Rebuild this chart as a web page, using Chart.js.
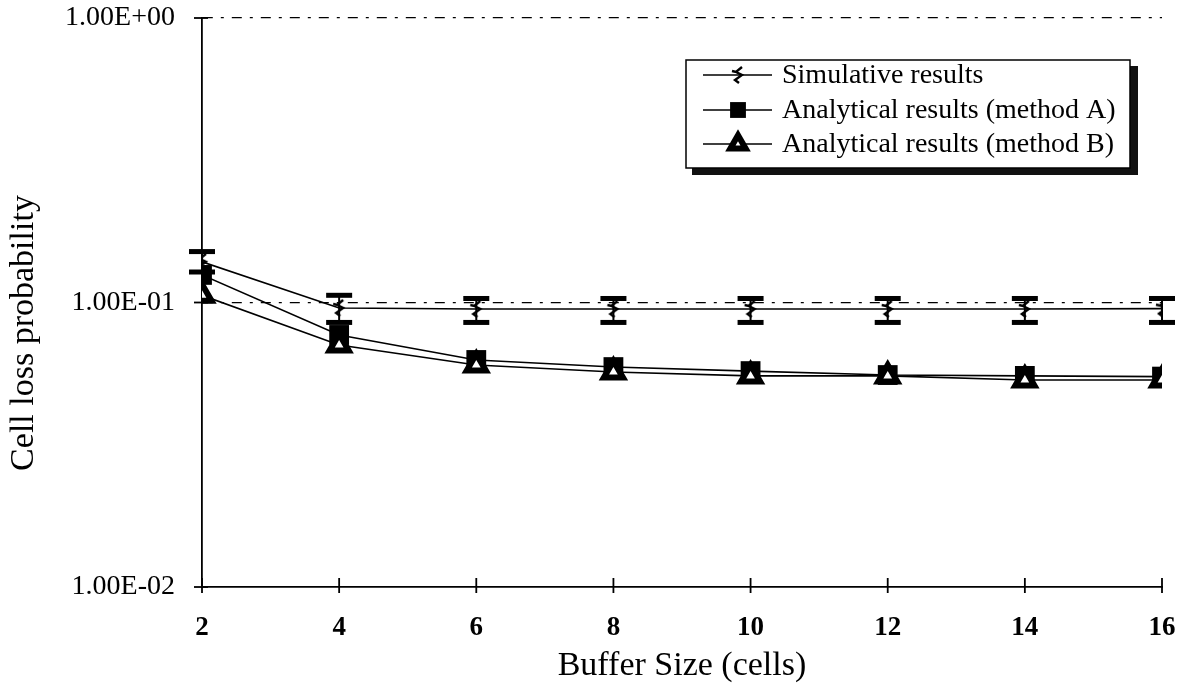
<!DOCTYPE html>
<html>
<head>
<meta charset="utf-8">
<script src="https://cdn.jsdelivr.net/npm/chart.js@4"></script>
<style>
  body { margin: 0; background: #fff; }
  #wrap { width: 1181px; height: 683px; }
</style>
</head>
<body>
<div id="wrap"><canvas id="myChart"></canvas></div>
<script>
// データ
const bufferSizes = [2, 4, 6, 8, 10, 12, 14, 16];
const simValues = [0.139, 0.0957, 0.0949, 0.0949, 0.0949, 0.0949, 0.0949, 0.0952];
const simUpper = [0.151, 0.106, 0.1033, 0.1033, 0.1033, 0.1033, 0.1033, 0.1033];
const simLower = [0.128, 0.0851, 0.0851, 0.0851, 0.0851, 0.0851, 0.0851, 0.0851];
const methodA = [0.125, 0.0769, 0.0628, 0.0593, 0.0574, 0.0556, 0.0552, 0.0549];
const methodB = [0.106, 0.0709, 0.0603, 0.0570, 0.0552, 0.0552, 0.0534, 0.0534];

const seriesNames = ['Simulative results', 'Analytical results (method A)', 'Analytical results (method B)'];
const yTickValues = [0.01, 0.1, 1];
const yTickLabels = ['1.00E-02', '1.00E-01', '1.00E+00'];

const serif = '"Liberation Serif", "DejaVu Serif", serif';

// シミュレーション結果のマーカー（ギザギザ）
const simMark = document.createElement('canvas');
simMark.width = 18;
simMark.height = 20;
(function () {
  const c = simMark.getContext('2d');
  c.strokeStyle = '#000';
  c.lineWidth = 2.4;
  c.lineJoin = 'miter';
  c.beginPath();
  c.moveTo(3, 6);
  c.lineTo(7, 7);
  c.lineTo(13, 2);
  c.moveTo(7, 7);
  c.lineTo(13, 10);
  c.lineTo(6, 15);
  c.lineTo(10, 18);
  c.stroke();
})();

const toPts = arr => arr.map((v, i) => ({ x: bufferSizes[i], y: v }));

const data = {
  datasets: [
    {
      label: seriesNames[0],
      data: toPts(simValues),
      borderColor: '#000',
      borderWidth: 1.6,
      pointStyle: simMark,
      pointRadius: 9,
      order: 1
    },
    {
      label: seriesNames[1],
      data: toPts(methodA),
      borderColor: '#000',
      backgroundColor: '#000',
      borderWidth: 1.6,
      pointStyle: 'rect',
      pointRadius: 14,
      pointBorderWidth: 0,
      order: 3
    },
    {
      label: seriesNames[2],
      data: toPts(methodB),
      borderColor: '#000',
      backgroundColor: '#000',
      borderWidth: 1.6,
      pointStyle: 'triangle',
      pointRadius: 11,
      pointBackgroundColor: '#fff',
      pointBorderColor: '#000',
      pointBorderWidth: 6,
      order: 2
    }
  ]
};

// エラーバー・目盛り・凡例・縦軸タイトル
const extras = {
  id: 'extras',
  beforeDatasetsDraw(chart) {
    const ctx = chart.ctx;
    const x = chart.scales.x, y = chart.scales.y;
    const area = chart.chartArea;
    ctx.save();
    ctx.strokeStyle = '#000';
    ctx.lineWidth = 1.8;
    // x軸の目盛り
    bufferSizes.forEach(v => {
      const px = x.getPixelForValue(v);
      ctx.beginPath();
      ctx.moveTo(px, area.bottom - 9);
      ctx.lineTo(px, area.bottom + 6);
      ctx.stroke();
    });
    // y軸の目盛り
    yTickValues.forEach(v => {
      const py = y.getPixelForValue(v);
      ctx.beginPath();
      ctx.moveTo(area.left - 8, py);
      ctx.lineTo(area.left + 6, py);
      ctx.stroke();
    });
    ctx.restore();
  },
  afterDatasetsDraw(chart) {
    const ctx = chart.ctx;
    const x = chart.scales.x, y = chart.scales.y;
    ctx.save();
    ctx.fillStyle = '#000';
    ctx.strokeStyle = '#000';
    bufferSizes.forEach((v, i) => {
      const px = x.getPixelForValue(v);
      const top = y.getPixelForValue(simUpper[i]);
      const bot = y.getPixelForValue(simLower[i]);
      ctx.lineWidth = 2;
      ctx.beginPath();
      ctx.moveTo(px, top);
      ctx.lineTo(px, bot);
      ctx.stroke();
      ctx.fillRect(px - 13, top - 2.5, 26, 5);
      ctx.fillRect(px - 13, bot - 2.5, 26, 5);
    });

    // 凡例
    const bx = 686, by = 60, bw = 444, bh = 108;
    ctx.fillStyle = '#111';
    ctx.fillRect(bx + bw, by + 6, 8, bh + 1);
    ctx.fillRect(bx + 6, by + bh, bw + 2, 7);
    ctx.fillStyle = '#fff';
    ctx.fillRect(bx, by, bw, bh);
    ctx.lineWidth = 1.5;
    ctx.strokeStyle = '#000';
    ctx.strokeRect(bx, by, bw, bh);
    const rows = [75, 110, 144];
    ctx.font = '28px ' + serif;
    ctx.textBaseline = 'middle';
    chart.data.datasets.forEach((ds, i) => {
      const ry = rows[i];
      ctx.lineWidth = 1.5;
      ctx.strokeStyle = '#000';
      ctx.beginPath();
      ctx.moveTo(703, ry);
      ctx.lineTo(772, ry);
      ctx.stroke();
      const el = chart.getDatasetMeta(i).data[0];
      const o = el.options;
      ctx.fillStyle = o.backgroundColor;
      ctx.strokeStyle = o.borderColor;
      ctx.lineWidth = o.borderWidth;
      Chart.helpers.drawPoint(ctx, {
        pointStyle: o.pointStyle,
        radius: o.radius * 0.8,
        rotation: 0,
        borderWidth: o.borderWidth * 0.8
      }, 738, ry);
      ctx.fillStyle = '#000';
      ctx.fillText(ds.label, 782, ry + 1);
    });

    // 縦軸タイトル
    ctx.translate(24, 333);
    ctx.rotate(-Math.PI / 2);
    ctx.textAlign = 'center';
    ctx.textBaseline = 'middle';
    ctx.font = '34px ' + serif;
    ctx.fillText('Cell loss probability', 0, 0);
    ctx.restore();
  }
};

const config = {
  type: 'line',
  data: data,
  options: {
    responsive: true,
    maintainAspectRatio: false,
    animation: false,
    layout: { padding: { top: 18, right: 19, left: 0, bottom: 0 } },
    plugins: {
      legend: { display: false },
      tooltip: { enabled: false }
    },
    scales: {
      x: {
        type: 'linear',
        min: 2,
        max: 16,
        afterFit: s => {
          s.height = 96;
          s.paddingLeft = 0; s.paddingRight = 0;
        },
        afterBuildTicks: s => { s.ticks = bufferSizes.map(v => ({ value: v })); },
        grid: { display: false },
        border: { color: '#000', width: 1.8 },
        ticks: {
          color: '#000',
          padding: 17,
          font: { family: serif, size: 27, weight: 'bold' }
        },
        title: {
          display: true,
          text: 'Buffer Size (cells)',
          color: '#000',
          font: { family: serif, size: 34 },
          padding: { top: 0, bottom: -3 }
        }
      },
      y: {
        type: 'logarithmic',
        min: 0.01,
        max: 1,
        afterFit: s => {
          s.width = 202;
          s.paddingTop = 0; s.paddingBottom = 0;
        },
        afterBuildTicks: s => { s.ticks = yTickValues.map(v => ({ value: v })); },
        grid: {
          drawTicks: false,
          color: c => (c.tick && c.tick.value > 0.02 ? '#000' : 'rgba(0,0,0,0)'),
          lineWidth: 1.3
        },
        // v4ではborder.dashがグリッド線の点線になる
        border: { color: '#000', width: 1.8, dash: [10, 8, 3, 8] },
        ticks: {
          color: '#000',
          padding: 27,
          font: { family: serif, size: 28 },
          callback: v => yTickLabels[yTickValues.indexOf(v)]
        }
      }
    }
  },
  plugins: [extras]
};

const myChart = new Chart(document.getElementById('myChart'), config);
</script>
</body>
</html>
